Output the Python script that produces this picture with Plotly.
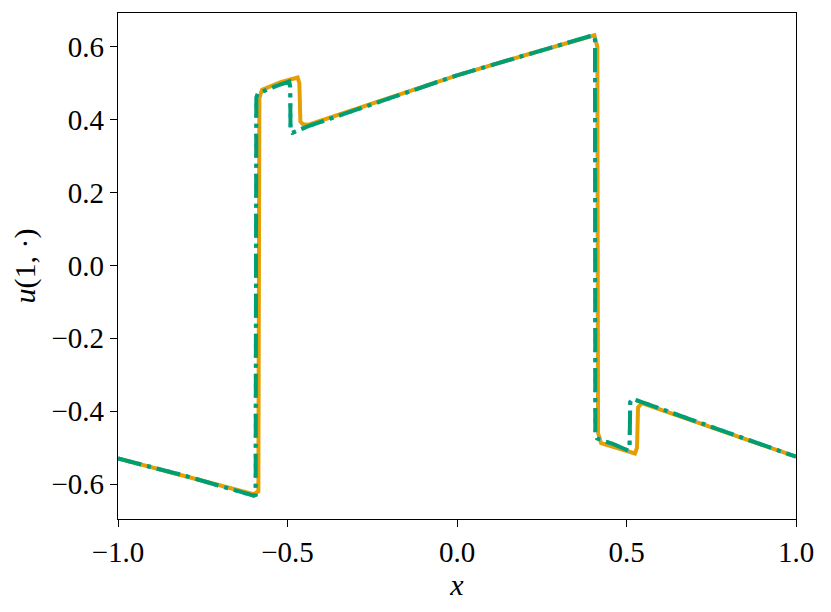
import plotly.graph_objects as go

# Orange solid series
orange_x = [-1.0, -0.8, -0.6, -0.586, -0.583, -0.575, -0.52, -0.47, -0.465, -0.462, -0.455, -0.44,
            0.0, 0.2, 0.405, 0.414, 0.416, 0.425, 0.48, 0.525, 0.531, 0.534, 0.545, 0.75, 1.0]
orange_y = [-0.53, -0.578, -0.628, -0.62, 0.46, 0.482, 0.503, 0.516, 0.5, 0.395, 0.388, 0.386,
            0.522, 0.577, 0.632, 0.6, -0.46, -0.488, -0.503, -0.516, -0.5, -0.39, -0.378, -0.443, -0.525]

# Light-blue dotted series
blue_x = [-1.0, -0.8, -0.6, -0.594, -0.592, -0.586, -0.54, -0.495, -0.492, -0.491, -0.486, -0.44,
          0.0, 0.2, 0.402, 0.407, 0.408, 0.413, 0.46, 0.505, 0.509, 0.511, 0.518, 0.75, 1.0]
blue_y = [-0.53, -0.578, -0.632, -0.63, 0.46, 0.472, 0.49, 0.505, 0.49, 0.37, 0.364, 0.382,
          0.522, 0.577, 0.632, 0.62, -0.46, -0.474, -0.49, -0.508, -0.5, -0.375, -0.366, -0.443, -0.525]

# Green dash-dot series
green_x = [-1.0, -0.8, -0.6, -0.594, -0.592, -0.588, -0.54, -0.495, -0.492, -0.491, -0.486, -0.44,
           0.0, 0.2, 0.402, 0.407, 0.408, 0.413, 0.46, 0.505, 0.509, 0.511, 0.518, 0.75, 1.0]
green_y = [-0.53, -0.578, -0.632, -0.63, 0.46, 0.472, 0.49, 0.505, 0.49, 0.37, 0.364, 0.382,
           0.522, 0.577, 0.632, 0.62, -0.46, -0.475, -0.49, -0.508, -0.5, -0.375, -0.366, -0.443, -0.525]

x_ticks = [-1.0, -0.5, 0.0, 0.5, 1.0]
y_ticks = [-0.6, -0.4, -0.2, 0.0, 0.2, 0.4, 0.6]

fig = go.Figure()
fig.add_trace(go.Scatter(x=orange_x, y=orange_y, mode="lines",
                         line=dict(color="#E69F00", width=4), showlegend=False))
fig.add_trace(go.Scatter(x=blue_x, y=blue_y, mode="lines",
                         line=dict(color="#56B4E9", width=4, dash="4px,6px"), showlegend=False))
fig.add_trace(go.Scatter(x=green_x, y=green_y, mode="lines",
                         line=dict(color="#009E73", width=4, dash="24px,6px,4px,6px"), showlegend=False))

font_family = "Liberation Serif"
fig.update_layout(
    width=823, height=604,
    margin=dict(l=110, r=35, t=5, b=93),
    paper_bgcolor="white", plot_bgcolor="white",
    font=dict(family=font_family, size=29, color="black"),
)
fig.update_xaxes(
    range=[-1.0, 1.0], tickvals=x_ticks, tickformat=".1f",
    showgrid=False, zeroline=False, showline=True, mirror=True,
    linecolor="black", linewidth=1.3,
    ticks="outside", ticklen=7, tickwidth=1.3, tickcolor="black",
    title=dict(text="<i>x</i>", font=dict(size=30), standoff=0),
)
fig.update_yaxes(
    range=[-0.696, 0.693], tickvals=y_ticks, tickformat=".1f",
    showgrid=False, zeroline=False, showline=True, mirror=True,
    linecolor="black", linewidth=1.3,
    ticks="outside", ticklen=7, tickwidth=1.3, tickcolor="black",
    title=dict(text="<i>u</i>(1, ·)", font=dict(size=30), standoff=6),
)

fig.write_html("out.html")
